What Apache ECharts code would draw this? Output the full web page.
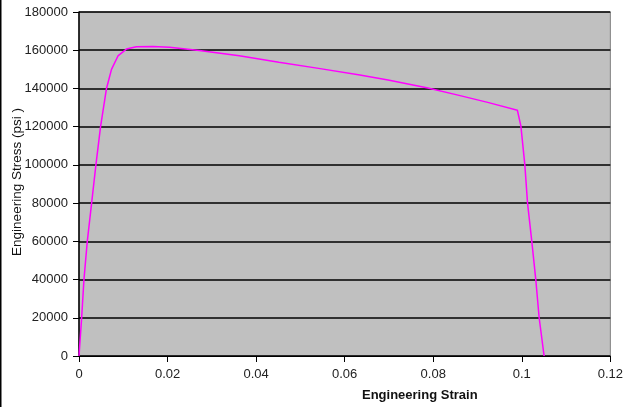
<!DOCTYPE html>
<html><head><meta charset="utf-8">
<script src="https://cdn.jsdelivr.net/npm/echarts@6/dist/echarts.min.js"></script>
<style>html,body{margin:0;padding:0;background:#fff;}#c{width:626px;height:407px;}</style>
</head><body><div id="c"></div>
<script>
var strain = [0, 0.0006, 0.00112, 0.00187, 0.00285, 0.00382, 0.00487, 0.00621, 0.00734, 0.0088, 0.0107, 0.01296, 0.01669, 0.02044, 0.02718, 0.0362, 0.04514, 0.0541, 0.0631, 0.0698, 0.0788, 0.0856, 0.0923, 0.0990, 0.09979, 0.10069, 0.1013, 0.10226, 0.10316, 0.10392, 0.10504];
var stress = [0, 20000, 40000, 60000, 80000, 100000, 120000, 140000, 150000, 157000, 160600, 161800, 162000, 161500, 159800, 157100, 153700, 150500, 147200, 144400, 140200, 136500, 132700, 128600, 120400, 100000, 80000, 60000, 40000, 20000, 0];
var xTicks = [0, 0.02, 0.04, 0.06, 0.08, 0.1, 0.12];
var yTicks = [0, 20000, 40000, 60000, 80000, 100000, 120000, 140000, 160000, 180000];
var xTitle = 'Engineering Strain';
var yTitle = 'Engineering Stress (psi )';

var data = strain.map(function(s, i){ return [s, stress[i]]; });
var font = 'Liberation Sans, Arial, sans-serif';
var chart = echarts.init(document.getElementById('c'), null, {renderer:'canvas'});
chart.setOption({
  animation: false,
  grid: {left: 79, top: 12, right: 13, bottom: 51, show: true, backgroundColor: '#c0c0c0', borderColor: '#808080', borderWidth: 1},
  xAxis: {
    type: 'value', min: xTicks[0], max: xTicks[xTicks.length-1], interval: 0.02,
    axisLine: {show: true, onZero: false, lineStyle: {color: '#000', width: 1}},
    axisTick: {show: true, length: 6, lineStyle: {color: '#000'}},
    splitLine: {show: false},
    axisLabel: {color: '#222', fontFamily: font, fontSize: 13, margin: 12,
      formatter: function(v){ return String(+v.toFixed(2)); }}
  },
  yAxis: {
    type: 'value', min: yTicks[0], max: yTicks[yTicks.length-1], interval: 20000,
    axisLine: {show: true, lineStyle: {color: '#000', width: 1.5}},
    axisTick: {show: true, length: 6, lineStyle: {color: '#000'}},
    splitLine: {show: true, lineStyle: {color: '#000', width: 1.5}},
    axisLabel: {color: '#222', fontFamily: font, fontSize: 13, margin: 11,
      formatter: function(v){ return String(v); }}
  },
  graphic: [
    {type: 'text', left: 362, top: 389, style: {text: xTitle, font: 'bold 13px ' + font, fill: '#111'}},
    {type: 'text', x: 17, y: 182, rotation: Math.PI/2, style: {text: yTitle, font: '13.5px ' + font, fill: '#111', align: 'center', verticalAlign: 'middle'}},
    {type: 'line', shape: {x1: 0.5, y1: 0, x2: 0.5, y2: 407}, style: {stroke: '#000', lineWidth: 2}}
  ],
  series: [{
    type: 'line', data: data, showSymbol: false, symbol: 'none',
    lineStyle: {color: '#ff00ff', width: 1.5}, z: 5
  }]
});
</script></body></html>
